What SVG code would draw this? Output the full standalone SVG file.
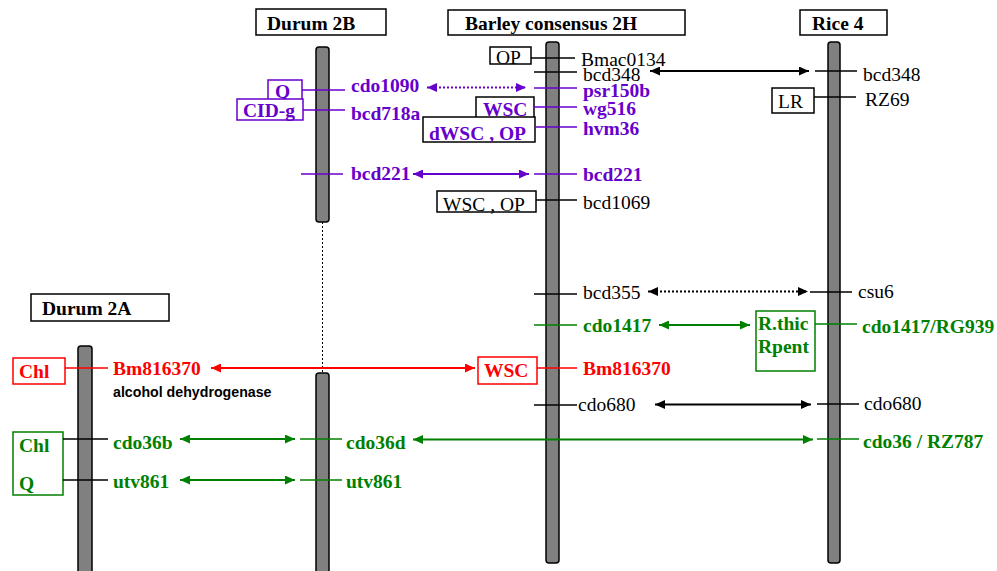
<svg xmlns="http://www.w3.org/2000/svg" width="997" height="571" viewBox="0 0 997 571">
<style>
text{font-family:"Liberation Serif","Times New Roman",serif;font-size:19.5px}
.b{font-weight:bold}
.k{fill:#000}
.p{fill:#6600CC}
.g{fill:#008000}
.r{fill:#FF0000}
.bar{fill:#808080;stroke:#000;stroke-width:1.5}
.hdr{fill:#fff;stroke:#000;stroke-width:1.5}
.box{fill:#fff;stroke-width:1.5}
.tk{stroke-width:1.5;fill:none}
.ar{stroke-width:2;fill:none}
.dot{stroke-dasharray:2,2}
.sk{stroke:#000}
.sp{stroke:#6600CC}
.sg{stroke:#008000}
.sr{stroke:#FF0000}
.sans{font-family:"Liberation Sans",Arial,sans-serif;font-size:14.2px;font-weight:bold}
</style>
<defs>
<marker id="ak" viewBox="0 0 10 9" refX="10" refY="4.5" markerWidth="10" markerHeight="9" markerUnits="userSpaceOnUse" orient="auto-start-reverse"><path d="M0,0L10,4.5L0,9z" fill="#000"/></marker>
<marker id="ap" viewBox="0 0 10 9" refX="10" refY="4.5" markerWidth="10" markerHeight="9" markerUnits="userSpaceOnUse" orient="auto-start-reverse"><path d="M0,0L10,4.5L0,9z" fill="#6600CC"/></marker>
<marker id="ag" viewBox="0 0 10 9" refX="10" refY="4.5" markerWidth="10" markerHeight="9" markerUnits="userSpaceOnUse" orient="auto-start-reverse"><path d="M0,0L10,4.5L0,9z" fill="#008000"/></marker>
<marker id="ar" viewBox="0 0 10 9" refX="10" refY="4.5" markerWidth="10" markerHeight="9" markerUnits="userSpaceOnUse" orient="auto-start-reverse"><path d="M0,0L10,4.5L0,9z" fill="#FF0000"/></marker>
</defs>
<rect width="997" height="571" fill="#fff"/>

<g id="durum2b">
<rect class="hdr" x="256" y="9" width="130" height="26"/>
<text class="b k" x="267" y="30">Durum 2B</text>
<rect class="bar" x="316" y="47" width="13" height="175" rx="3"/>
<line x1="322.5" y1="222" x2="322.5" y2="373" stroke="#000" stroke-width="1" stroke-dasharray="2,2"/>
<rect class="bar" x="316" y="373" width="13" height="220" rx="3"/>
</g>
<g id="barley2h">
<rect class="hdr" x="448" y="10" width="237" height="25"/>
<text class="b k" x="465" y="30">Barley consensus 2H</text>
<rect class="bar" x="546" y="42" width="13" height="521" rx="3"/>
</g>
<g id="rice4">
<rect class="hdr" x="800" y="10" width="87" height="25"/>
<text class="b k" x="812" y="30">Rice 4</text>
<rect class="bar" x="828" y="42" width="12" height="521" rx="3"/>
</g>
<g id="durum2a">
<rect class="hdr" x="31" y="294" width="138" height="27"/>
<text class="b k" x="42" y="315">Durum 2A</text>
<rect class="bar" x="78" y="346" width="14" height="250" rx="3"/>
</g>

<g id="barley-markers">
<rect class="box sk" x="490" y="47" width="41" height="17"/>
<text class="k" x="496" y="64">OP</text>
<line class="tk sk" x1="531" y1="58" x2="575" y2="58"/>
<text class="k" x="581" y="65.5">Bmac0134</text>
<line class="tk sk" x1="534" y1="72" x2="577" y2="72"/>
<text class="k" x="583" y="81">bcd348</text>
<line class="tk sp" x1="534" y1="88" x2="577" y2="88"/>
<text class="b p" x="583" y="97">psr150b</text>
<rect class="box sk" x="476" y="97" width="58" height="21"/>
<text class="b p" x="483" y="116">WSC</text>
<line class="tk sp" x1="534" y1="107" x2="577" y2="107"/>
<text class="b p" x="583" y="115">wg516</text>
<rect class="box sk" x="423" y="117" width="112" height="25"/>
<text class="b p" x="429" y="140">dWSC , OP</text>
<line class="tk sp" x1="535" y1="127" x2="577" y2="127"/>
<text class="b p" x="583" y="135">hvm36</text>
<line class="tk sp" x1="534" y1="174" x2="577" y2="174"/>
<text class="b p" x="583" y="181">bcd221</text>
<rect class="box sk" x="437" y="191" width="99" height="21"/>
<text class="k" x="443" y="211">WSC , OP</text>
<line class="tk sk" x1="536" y1="200" x2="577" y2="200"/>
<text class="k" x="583" y="209">bcd1069</text>
<line class="tk sk" x1="534" y1="294" x2="577" y2="294"/>
<text class="k" x="583" y="299">bcd355</text>
<line class="tk sg" x1="534" y1="325" x2="577" y2="325"/>
<text class="b g" x="583" y="332">cdo1417</text>
<rect class="box sr" x="478" y="357" width="59" height="27"/>
<text class="b r" x="484" y="377">WSC</text>
<line class="tk sr" x1="537" y1="368" x2="577" y2="368"/>
<text class="b r" x="583" y="375">Bm816370</text>
<line class="tk sk" x1="534" y1="405" x2="577" y2="405"/>
<text class="k" x="578" y="411">cdo680</text>
</g>

<g id="rice-markers">
<line class="tk sk" x1="815" y1="71" x2="857" y2="71"/>
<text class="k" x="863" y="81">bcd348</text>
<rect class="box sk" x="772" y="88" width="42" height="25"/>
<text class="k" x="778" y="108">LR</text>
<line class="tk sk" x1="814" y1="97" x2="856" y2="97"/>
<text class="k" x="865" y="106">RZ69</text>
<line class="tk sk" x1="810" y1="292" x2="852" y2="292"/>
<text class="k" x="858" y="298">csu6</text>
<rect class="box sg" x="756" y="311" width="59" height="60"/>
<text class="b g" x="758" y="330">R.thic</text>
<text class="b g" x="758" y="353">Rpent</text>
<line class="tk sg" x1="815" y1="324" x2="857" y2="324"/>
<text class="b g" x="862" y="333">cdo1417/RG939</text>
<line class="tk sk" x1="817" y1="404" x2="859" y2="404"/>
<text class="k" x="864" y="410">cdo680</text>
<line class="tk sg" x1="817" y1="439" x2="859" y2="439"/>
<text class="b g" x="863" y="448">cdo36 / RZ787</text>
</g>

<g id="durum2b-markers">
<rect class="box sp" x="268" y="80" width="34" height="20"/>
<text class="b p" x="275" y="98">Q</text>
<line class="tk sp" x1="302" y1="90" x2="345" y2="90"/>
<text class="b p" x="351" y="92">cdo1090</text>
<rect class="box sp" x="237" y="99" width="66" height="21"/>
<text class="b p" x="243" y="117">CID-g</text>
<line class="tk sp" x1="303" y1="110" x2="345" y2="110"/>
<text class="b p" x="351" y="120">bcd718a</text>
<line class="tk sp" x1="301" y1="174" x2="343" y2="174"/>
<text class="b p" x="351" y="180">bcd221</text>
<line class="tk sg" x1="300" y1="439" x2="342" y2="439"/>
<text class="b g" x="346" y="449">cdo36d</text>
<line class="tk sg" x1="300" y1="480" x2="342" y2="480"/>
<text class="b g" x="346" y="488">utv861</text>
</g>

<g id="durum2a-markers">
<rect class="box sr" x="13" y="358" width="52" height="26"/>
<text class="b r" x="19" y="378">Chl</text>
<line class="tk sr" x1="65" y1="368" x2="108" y2="368"/>
<text class="b r" x="113" y="375">Bm816370</text>
<text class="sans k" x="113" y="397">alcohol dehydrogenase</text>
<rect class="box sg" x="13" y="432" width="50" height="63"/>
<text class="b g" x="19" y="452">Chl</text>
<text class="b g" x="19" y="490">Q</text>
<line class="tk sk" x1="63" y1="439" x2="108" y2="439"/>
<text class="b g" x="113" y="449">cdo36b</text>
<line class="tk sk" x1="63" y1="480" x2="108" y2="480"/>
<text class="b g" x="113" y="488">utv861</text>
</g>

<g id="connectors">
<line class="ar sk" x1="650" y1="71" x2="809" y2="71" marker-start="url(#ak)" marker-end="url(#ak)"/>
<line class="ar sp dot" x1="427" y1="87.5" x2="526" y2="87.5" marker-start="url(#ap)" marker-end="url(#ap)"/>
<line class="ar sp" x1="413" y1="174" x2="529" y2="174" marker-start="url(#ap)" marker-end="url(#ap)"/>
<line class="ar sk dot" x1="648" y1="291.5" x2="808" y2="291.5" marker-start="url(#ak)" marker-end="url(#ak)"/>
<line class="ar sg" x1="659" y1="325" x2="750" y2="325" marker-start="url(#ag)" marker-end="url(#ag)"/>
<line class="ar sr" x1="211" y1="368" x2="475" y2="368" marker-start="url(#ar)" marker-end="url(#ar)"/>
<line class="ar sk" x1="655" y1="404.5" x2="811" y2="404.5" marker-start="url(#ak)" marker-end="url(#ak)"/>
<line class="ar sg" x1="180" y1="439" x2="295" y2="439" marker-start="url(#ag)" marker-end="url(#ag)"/>
<line class="ar sg" x1="413" y1="439.5" x2="813" y2="439.5" marker-start="url(#ag)" marker-end="url(#ag)"/>
<line class="ar sg" x1="180" y1="480" x2="295" y2="480" marker-start="url(#ag)" marker-end="url(#ag)"/>
</g>
</svg>
